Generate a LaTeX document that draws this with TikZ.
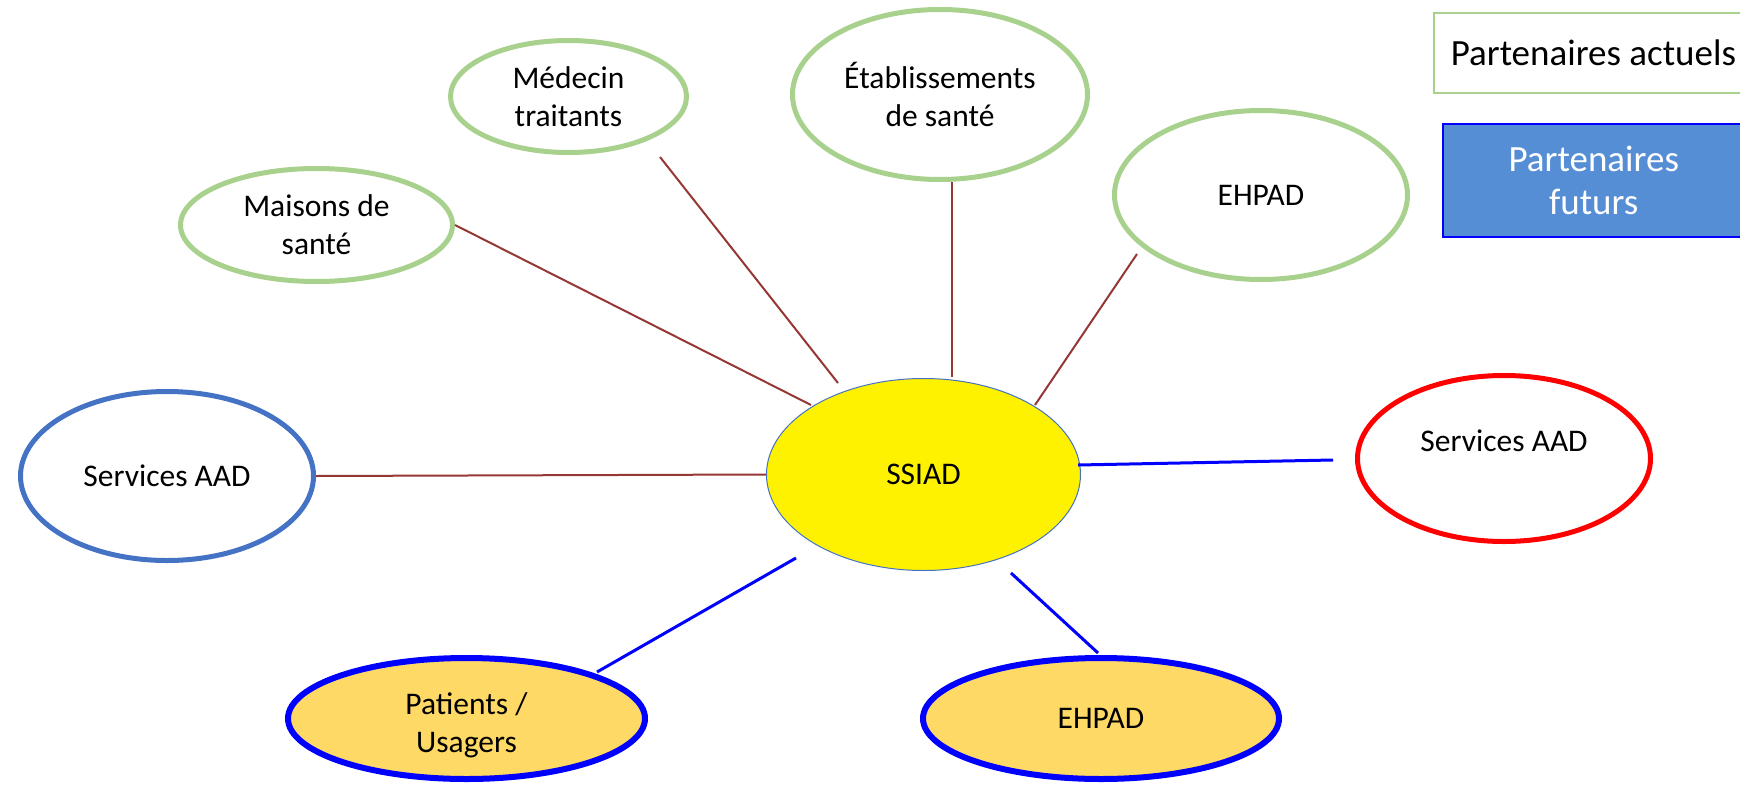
\documentclass[tikz,border=0pt]{standalone}
\usepackage{fontspec}
\setmainfont{Carlito}
\usetikzlibrary{shapes.geometric}
\definecolor{grn}{HTML}{A9D18E}
\definecolor{brn}{HTML}{953735}
\definecolor{bluA}{HTML}{4472C4}
\definecolor{gold}{HTML}{FFD966}
\definecolor{legB}{HTML}{558ED5}
\begin{document}
\begin{tikzpicture}[x=1pt,y=-1pt,
  base/.style={ellipse, inner sep=0pt, align=center, font=\fontsize{31.5}{38}\selectfont},
  cur/.style={base, draw=grn, line width=5pt, fill=white},
  fut/.style={base, draw=blue, line width=6pt, fill=gold},
  curline/.style={draw=brn, line width=2pt},
  futline/.style={draw=blue, line width=3pt},
  legfont/.style={font=\fontsize{37}{43}\selectfont}
]
\useasboundingbox (0,0) rectangle (1740,787);

% nodes
\node[cur, minimum width=272pt, minimum height=113pt] (mai) at (316.5,225) {Maisons de\\santé};
\node[cur, minimum width=236pt, minimum height=112pt] (med) at (568.5,96.5) {Médecin\\traitants};
\node[cur, minimum width=295pt, minimum height=170pt] (eta) at (940,94.5) {Établissements\\de santé};
\node[cur, minimum width=293pt, minimum height=169pt] (ehpa) at (1261,195) {EHPAD};
\node[base, draw=bluA, line width=5pt, minimum width=293pt, minimum height=169pt] (svl) at (167,476) {Services AAD};
\node[base, draw=red, line width=5pt, minimum width=293pt, minimum height=166pt] (svr) at (1504,458.5) {\raisebox{35pt}{Services AAD}};
\node[base, draw=bluA, fill=yellow, line width=1pt, minimum width=314pt, minimum height=192pt] (ss) at (923.5,474.5) {SSIAD};
\node[fut, minimum width=357pt, minimum height=121pt] (pat) at (466.5,718.5) {\raisebox{-7pt}[\height][\depth]{\begin{tabular}{@{}c@{}}Patients /\\Usagers\end{tabular}}};
\node[fut, minimum width=356pt, minimum height=121pt] (ehpb) at (1101,718.5) {EHPAD};

% legend
\node[draw=grn, line width=1.5pt, anchor=north west, minimum height=80pt, inner xsep=17pt, inner ysep=0pt, legfont] (leg1) at (1433,12) {\makebox[300pt][l]{Partenaires actuels}};
\node[draw=blue, fill=legB, line width=1.5pt, anchor=north west, minimum width=302pt, minimum height=113pt, inner sep=0pt, align=center, text=white, legfont] (leg2) at (1442,123) {Partenaires\\futurs};

% connector end points
\coordinate (m1) at (660,157);   \coordinate (m2) at (838,383);
\coordinate (e1) at (952,182);   \coordinate (e2) at (952,377);
\coordinate (h1) at (1137,254);  \coordinate (h2) at (1035,405);
\coordinate (r1) at (1078,465);  \coordinate (r2) at (1333,460);
\coordinate (p1) at (597,672);   \coordinate (p2) at (796,558);
\coordinate (b1) at (1011,573);  \coordinate (b2) at (1098,653);
\coordinate (a2) at (811,405);

% connectors
\draw[curline] (mai.east) -- (a2);
\draw[curline] (m1) -- (m2);
\draw[curline] (e1) -- (e2);
\draw[curline] (h1) -- (h2);
\draw[curline] (svl.east) -- (ss.west);
\draw[futline] (r1) -- (r2);
\draw[futline] (p1) -- (p2);
\draw[futline] (b1) -- (b2);
\end{tikzpicture}
\end{document}
